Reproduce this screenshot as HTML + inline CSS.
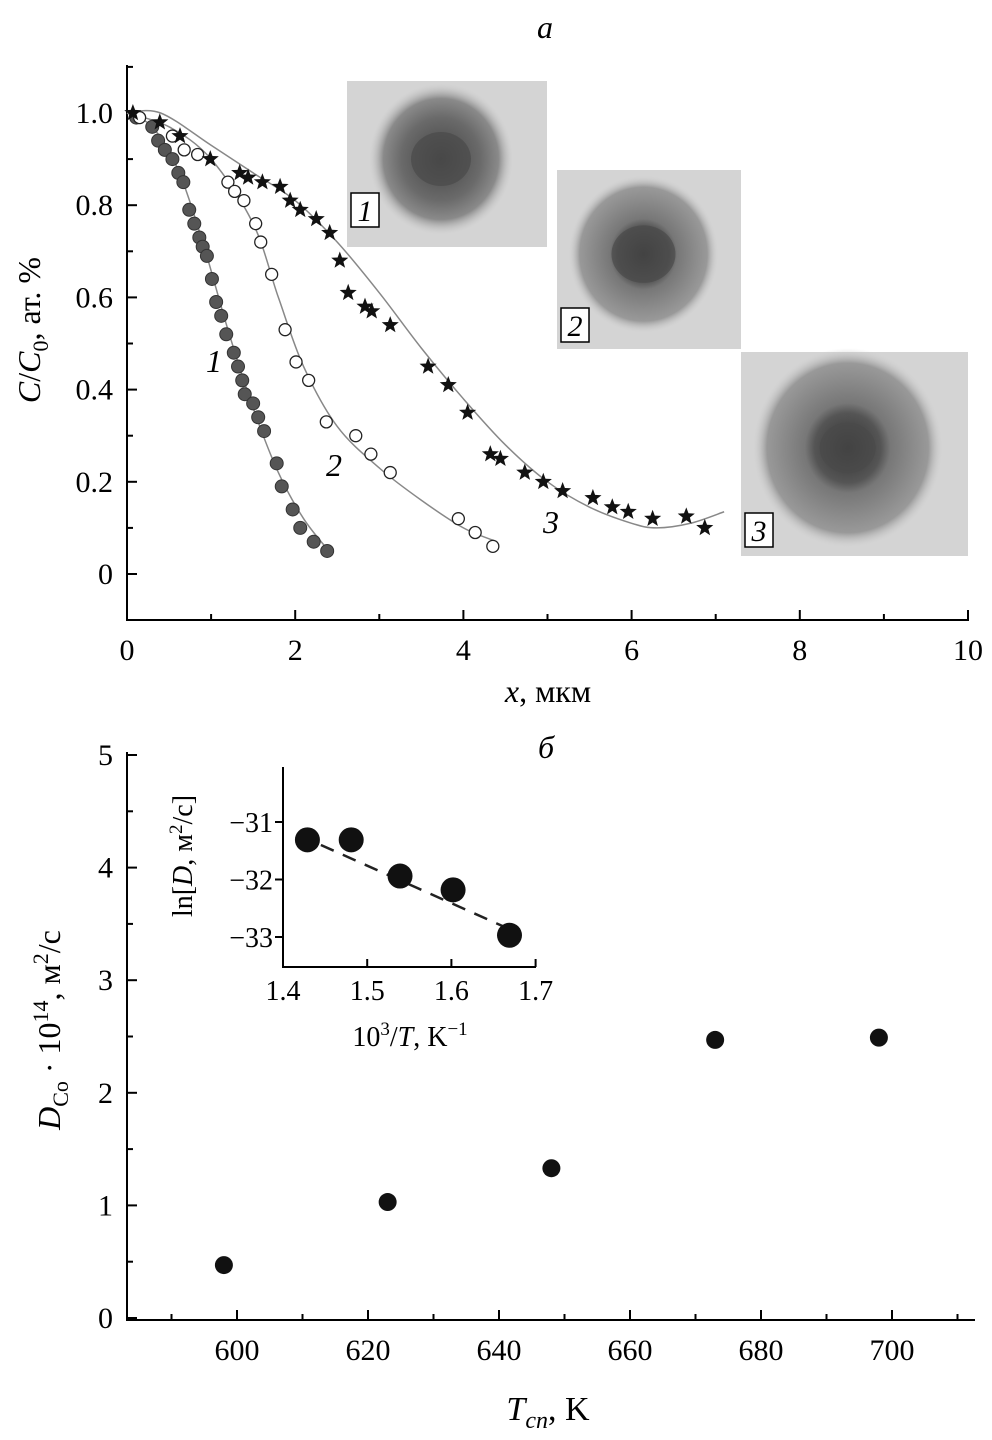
<!DOCTYPE html>
<html><head><meta charset="utf-8"><style>
html,body{margin:0;padding:0;background:#fff}
svg{display:block;font-family:"Liberation Serif",serif}
</style></head><body>
<svg id="s" width="992" height="1440" viewBox="0 0 992 1440">
<defs>
<radialGradient id="g1" cx="50%" cy="50%" r="50%"><stop offset="0" stop-color="#444"/><stop offset="0.55" stop-color="#6a6a6a"/><stop offset="0.8" stop-color="#8a8a8a"/><stop offset="1" stop-color="#c8c8c8" stop-opacity="0"/></radialGradient>
<radialGradient id="g2" cx="50%" cy="50%" r="50%"><stop offset="0" stop-color="#333"/><stop offset="0.35" stop-color="#555"/><stop offset="0.45" stop-color="#777"/><stop offset="0.85" stop-color="#999"/><stop offset="1" stop-color="#d0d0d0" stop-opacity="0"/></radialGradient>
</defs>
<g id="top"></g>
<g id="bot"></g>
<g id="ins"></g>
</svg>
<script>
// ---- chart a data ----
const s1x=[0.11,0.30,0.37,0.45,0.54,0.61,0.67,0.74,0.80,0.86,0.90,0.95,1.01,1.06,1.12,1.18,1.27,1.32,1.37,1.40,1.50,1.56,1.63,1.78,1.84,1.97,2.06,2.22,2.38];
const s1y=[0.99,0.97,0.94,0.92,0.90,0.87,0.85,0.79,0.76,0.73,0.71,0.69,0.64,0.59,0.56,0.52,0.48,0.45,0.42,0.39,0.37,0.34,0.31,0.24,0.19,0.14,0.10,0.07,0.05];
const s2x=[0.15,0.54,0.68,0.84,1.20,1.28,1.39,1.53,1.59,1.72,1.88,2.01,2.16,2.37,2.72,2.90,3.13,3.94,4.14,4.35];
const s2y=[0.99,0.95,0.92,0.91,0.85,0.83,0.81,0.76,0.72,0.65,0.53,0.46,0.42,0.33,0.30,0.26,0.22,0.12,0.09,0.06];
const s3x=[0.07,0.39,0.63,0.99,1.34,1.44,1.61,1.82,1.94,2.06,2.25,2.41,2.53,2.63,2.83,2.91,3.13,3.58,3.82,4.05,4.32,4.44,4.73,4.95,5.18,5.54,5.77,5.96,6.25,6.65,6.87];
const s3y=[1.00,0.98,0.95,0.90,0.87,0.86,0.85,0.84,0.81,0.79,0.77,0.74,0.68,0.61,0.58,0.57,0.54,0.45,0.41,0.35,0.26,0.25,0.22,0.20,0.18,0.165,0.145,0.135,0.12,0.125,0.10];
const f1x=[0,0.3,0.6,0.9,1.2,1.5,1.8,2.1,2.4];
const f1y=[1.0,0.97,0.88,0.72,0.53,0.36,0.22,0.12,0.05];
const f2x=[0,0.5,1.0,1.5,1.8,2.1,2.5,3.0,3.5,4.0,4.4];
const f2y=[1.0,0.97,0.90,0.76,0.60,0.45,0.32,0.23,0.16,0.10,0.07];
const f3x=[0,0.4,1.0,1.5,2.0,2.5,3.0,3.5,4.0,4.5,5.0,5.5,6.0,6.3,6.7,7.1];
const f3y=[1.0,1.0,0.93,0.87,0.81,0.72,0.61,0.49,0.38,0.28,0.20,0.145,0.11,0.10,0.11,0.135];
const axTicksX=[0,2,4,6,8,10];
const axTicksY=[0,0.2,0.4,0.6,0.8,1.0];
const axTickLabY=["0","0.2","0.4","0.6","0.8","1.0"];
// ---- chart b data ----
const bT=[598,623,648,673,698];
const bD=[0.47,1.03,1.33,2.47,2.49];
const bTicksX=[600,620,640,660,680,700];
const bTicksY=[0,1,2,3,4,5];
// ---- inset data ----
const iX=[1.429,1.481,1.539,1.602,1.669];
const iY=[-31.31,-31.31,-31.94,-32.18,-32.97];
const iTicksX=[1.4,1.5,1.6,1.7];
const iTicksY=[-31,-32,-33];
const iFit=[[1.445,-31.4],[1.667,-32.85]];

const NS="http://www.w3.org/2000/svg";
function mk(p,t,a,txt){const e=document.createElementNS(NS,t);for(const k in a)e.setAttribute(k,a[k]);if(txt!==undefined)e.textContent=txt;p.appendChild(e);return e;}
function smooth(pts){let d="M"+pts[0][0]+","+pts[0][1];for(let i=0;i<pts.length-1;i++){const p0=pts[i-1]||pts[i],p1=pts[i],p2=pts[i+1],p3=pts[i+2]||p2;d+=" C"+(p1[0]+(p2[0]-p0[0])/6)+","+(p1[1]+(p2[1]-p0[1])/6)+" "+(p2[0]-(p3[0]-p1[0])/6)+","+(p2[1]-(p3[1]-p1[1])/6)+" "+p2[0]+","+p2[1];}return d;}
function star(cx,cy,r){let d="";for(let i=0;i<10;i++){const a=-Math.PI/2+i*Math.PI/5,rr=i%2?r*0.42:r;d+=(i?"L":"M")+(cx+rr*Math.cos(a)).toFixed(1)+","+(cy+rr*Math.sin(a)).toFixed(1);}return d+"Z";}

// ===== chart a =====
const A=document.getElementById('top');
const ax=v=>127+v*84.1, ay=v=>574-v*461;
let e;
e=mk(A,'line',{x1:127,y1:65,x2:127,y2:621,stroke:'#000','stroke-width':2});

e=mk(A,'line',{x1:126,y1:620,x2:969,y2:620,stroke:'#000','stroke-width':2});

axTicksX.forEach(v=>{mk(A,'line',{x1:ax(v),y1:620,x2:ax(v),y2:610,stroke:'#000','stroke-width':2});
 e=mk(A,'text',{x:ax(v),y:660,'font-size':30,'text-anchor':'middle'},String(v));
 
 if(v<10)mk(A,'line',{x1:ax(v+1),y1:620,x2:ax(v+1),y2:614,stroke:'#000','stroke-width':2});});
axTicksY.forEach((v,i)=>{mk(A,'line',{x1:127,y1:ay(v),x2:137,y2:ay(v),stroke:'#000','stroke-width':2});
 mk(A,'line',{x1:127,y1:ay(v+0.1),x2:133,y2:ay(v+0.1),stroke:'#000','stroke-width':2});
 e=mk(A,'text',{x:113,y:ay(v)+10,'font-size':30,'text-anchor':'end'},axTickLabY[i]);
 });
e=mk(A,'text',{x:545,y:38,'font-size':32,'font-style':'italic','text-anchor':'middle'},'a');

e=mk(A,'text',{x:548,y:702,'font-size':32,'text-anchor':'middle'});e.innerHTML='<tspan font-style="italic">x</tspan>, мкм';

e=mk(A,'text',{x:0,y:0,'font-size':32,'text-anchor':'middle',transform:'translate(40,330) rotate(-90)'});
e.innerHTML='<tspan font-style="italic">C</tspan>/<tspan font-style="italic">C</tspan><tspan font-size="22" dy="8">0</tspan><tspan dy="-8">, ат. %</tspan>';

function photo(x,y,w,h,r1,r2,id,grad){const g=mk(A,'g',{});
 mk(g,'rect',{x:x,y:y,width:w,height:h,fill:'#d4d4d4'});
 mk(g,'ellipse',{cx:x+w*0.47,cy:y+h*0.47,rx:r1,ry:r1*1.05,fill:'url(#'+grad+')'});
 mk(g,'ellipse',{cx:x+w*0.47,cy:y+h*0.47,rx:r2,ry:r2*0.9,fill:'#4a4a4a',opacity:0.7});
 return g;}
photo(347,81,200,166,72,30,'1','g1');
photo(557,170,184,179,75,32,'2','g2');
photo(741,352,227,204,95,28,'3','g2');
[[351,193,'1'],[561,308,'2'],[745,513,'3']].forEach(b=>{mk(A,'rect',{x:b[0],y:b[1],width:28,height:34,fill:'#fff',stroke:'#000','stroke-width':1.5});
 e=mk(A,'text',{x:b[0]+14,y:b[1]+28,'font-size':30,'font-style':'italic','text-anchor':'middle'},b[2]);
 });
[[f1x,f1y],[f2x,f2y],[f3x,f3y]].forEach((f,k)=>{e=mk(A,'path',{d:smooth(f[0].map((v,i)=>[ax(v),ay(f[1][i])])),fill:'none',stroke:'#888','stroke-width':1.5});
 });
s1x.forEach((v,i)=>{e=mk(A,'circle',{cx:ax(v),cy:ay(s1y[i]),r:6.5,fill:'#555',stroke:'#333','stroke-width':1});
 });
s2x.forEach((v,i)=>{e=mk(A,'circle',{cx:ax(v),cy:ay(s2y[i]),r:6,fill:'#fff',stroke:'#222','stroke-width':1.3});
 });
s3x.forEach((v,i)=>{e=mk(A,'path',{d:star(ax(v),ay(s3y[i]),9),fill:'#111'});
 });
[[214,372,'1'],[334,476,'2'],[551,533,'3']].forEach(b=>{e=mk(A,'text',{x:b[0],y:b[1],'font-size':32,'font-style':'italic','text-anchor':'middle'},b[2]);
 });

// ===== chart b =====
const B=document.getElementById('bot');
const bx=v=>237+(v-600)*6.55, by=v=>1318-v*112.6;
e=mk(B,'line',{x1:127,y1:752,x2:127,y2:1321,stroke:'#000','stroke-width':2});

e=mk(B,'line',{x1:126,y1:1320,x2:975,y2:1320,stroke:'#000','stroke-width':2});

bTicksX.forEach(v=>{mk(B,'line',{x1:bx(v),y1:1320,x2:bx(v),y2:1310,stroke:'#000','stroke-width':2});
 mk(B,'line',{x1:bx(v-10),y1:1320,x2:bx(v-10),y2:1314,stroke:'#000','stroke-width':2});
 e=mk(B,'text',{x:bx(v),y:1360,'font-size':30,'text-anchor':'middle'},String(v));
 });
mk(B,'line',{x1:bx(710),y1:1320,x2:bx(710),y2:1314,stroke:'#000','stroke-width':2});
bTicksY.forEach(v=>{mk(B,'line',{x1:127,y1:by(v),x2:137,y2:by(v),stroke:'#000','stroke-width':2});
 if(v<5)mk(B,'line',{x1:127,y1:by(v+0.5),x2:133,y2:by(v+0.5),stroke:'#000','stroke-width':2});
 e=mk(B,'text',{x:113,y:by(v)+10,'font-size':30,'text-anchor':'end'},String(v));
 });
e=mk(B,'text',{x:546,y:758,'font-size':32,'font-style':'italic','text-anchor':'middle'},'б');

e=mk(B,'text',{x:548,y:1420,'font-size':34,'text-anchor':'middle'});e.innerHTML='<tspan font-style="italic">T</tspan><tspan font-style="italic" font-size="24" dy="8">сп</tspan><tspan dy="-8">, K</tspan>';

e=mk(B,'text',{x:0,y:0,'font-size':32,'text-anchor':'middle',transform:'translate(60,1030) rotate(-90)'});
e.innerHTML='<tspan font-style="italic">D</tspan><tspan font-size="22" dy="8">Co</tspan><tspan dy="-8"> · 10</tspan><tspan font-size="22" dy="-12">14</tspan><tspan dy="12">, м</tspan><tspan font-size="22" dy="-12">2</tspan><tspan dy="12">/с</tspan>';

bT.forEach((v,i)=>{e=mk(B,'circle',{cx:bx(v),cy:by(bD[i]),r:9,fill:'#111'});
 });

// ===== inset =====
const I=document.getElementById('ins');
const ix=v=>283+(v-1.4)*842, iy=v=>822+(-31-v)*57.5;
e=mk(I,'line',{x1:283,y1:767,x2:283,y2:968,stroke:'#000','stroke-width':2});

e=mk(I,'line',{x1:282,y1:967,x2:536,y2:967,stroke:'#000','stroke-width':2});

iTicksX.forEach(v=>{mk(I,'line',{x1:ix(v),y1:967,x2:ix(v),y2:959,stroke:'#000','stroke-width':2});
 e=mk(I,'text',{x:ix(v),y:1000,'font-size':28,'text-anchor':'middle'},v.toFixed(1));
 });
iTicksY.forEach(v=>{mk(I,'line',{x1:275,y1:iy(v),x2:283,y2:iy(v),stroke:'#000','stroke-width':2});
 e=mk(I,'text',{x:273,y:iy(v)+10,'font-size':28,'text-anchor':'end'},'−'+Math.abs(v));
 });
e=mk(I,'text',{x:410,y:1046,'font-size':28,'text-anchor':'middle'});e.innerHTML='10<tspan font-size="19" dy="-11">3</tspan><tspan dy="11">/</tspan><tspan font-style="italic">T</tspan>, K<tspan font-size="19" dy="-11">−1</tspan>';

e=mk(I,'text',{x:0,y:0,'font-size':28,'text-anchor':'middle',transform:'translate(192,856) rotate(-90)'});
e.innerHTML='ln[<tspan font-style="italic">D</tspan>, м<tspan font-size="19" dy="-10">2</tspan><tspan dy="10">/с]</tspan>';

e=mk(I,'line',{x1:ix(iFit[0][0]),y1:iy(iFit[0][1]),x2:ix(iFit[1][0]),y2:iy(iFit[1][1]),stroke:'#222','stroke-width':2.5,'stroke-dasharray':'14,10'});

iX.forEach((v,i)=>{e=mk(I,'circle',{cx:ix(v),cy:iy(iY[i]),r:12.5,fill:'#111'});
 });
</script>
</body></html>
